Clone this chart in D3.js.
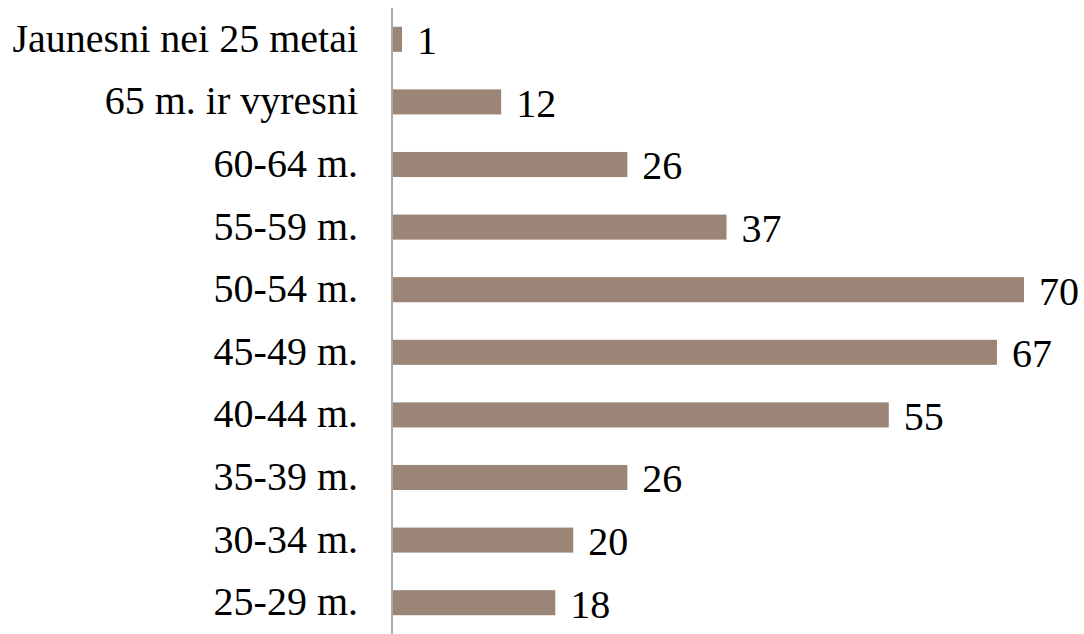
<!DOCTYPE html>
<html><head><meta charset="utf-8">
<script src="https://cdn.jsdelivr.net/npm/d3@7"></script>
<style>body{margin:0;background:#fff}svg{display:block}</style>
</head><body>
<svg id="c" width="1084" height="634"></svg>
<script>
const categories = ["Jaunesni nei 25 metai","65 m. ir vyresni","60-64 m.","55-59 m.","50-54 m.","45-49 m.","40-44 m.","35-39 m.","30-34 m.","25-29 m."];
const values = [1,12,26,37,70,67,55,26,20,18];

const svg = d3.select("#c");
const x0 = 393;
const x = d3.scaleLinear().domain([0,70]).range([x0, 1024]);
const y = d3.scaleBand().domain(categories).range([8, 634]).paddingInner(0.6).paddingOuter(0.3);
const font = "'Liberation Serif', serif";

svg.append("g").selectAll("rect").data(values).join("rect")
  .attr("x", x(0)).attr("y", (d,i)=>y(categories[i]))
  .attr("width", d=>x(d)-x(0)).attr("height", y.bandwidth())
  .attr("fill", "#9b8576");

svg.append("line").attr("x1",392).attr("x2",392).attr("y1",8).attr("y2",634)
  .attr("stroke","#8c8c8c").attr("stroke-width",1.5);

svg.append("g").selectAll("text").data(categories).join("text")
  .attr("x", 358).attr("y", d=>y(d)+y.bandwidth()/2)
  .attr("dy","0.31em").attr("text-anchor","end")
  .style("font-family",font).style("font-size","40px").attr("fill","#000")
  .text(d=>d);

svg.append("g").selectAll("text").data(values).join("text")
  .attr("x", d=>x(d)+15).attr("y", (d,i)=>y(categories[i])+y.bandwidth()/2)
  .attr("dy","0.37em")
  .style("font-family",font).style("font-size","40px").attr("fill","#000")
  .text(d=>d);
</script>
</body></html>
